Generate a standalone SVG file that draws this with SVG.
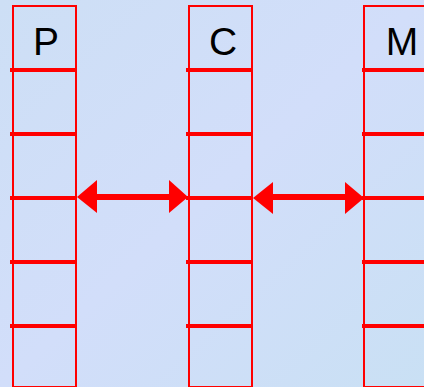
<svg xmlns="http://www.w3.org/2000/svg" width="424" height="387" viewBox="0 0 424 387">
<style>
.col{fill:none;stroke:#ff0000;stroke-width:2}
.bar{stroke:#ff0000;stroke-width:4}
.lbl{font-family:"Liberation Sans",Arial,sans-serif;font-size:39px;fill:#000;text-anchor:middle}
.shaft{stroke:#ff0000;stroke-width:6}
.head{fill:#ff0000}
</style>
<defs>
<linearGradient id="bg" x1="0" y1="0" x2="1" y2="1">
<stop offset="0" stop-color="#cddff5"/>
<stop offset="0.5" stop-color="#d2defa"/>
<stop offset="1" stop-color="#c9e0f4"/>
</linearGradient>
</defs>
<rect width="424" height="387" fill="url(#bg)"/>
<g id="P">
<rect class="col" x="13" y="6" width="63" height="381"/>
<text class="lbl" x="46" y="55">P</text>
<line class="bar" x1="10" y1="70" x2="76" y2="70"/>
<line class="bar" x1="10" y1="134" x2="76" y2="134"/>
<line class="bar" x1="10" y1="198" x2="76" y2="198"/>
<line class="bar" x1="10" y1="262" x2="76" y2="262"/>
<line class="bar" x1="10" y1="326" x2="76" y2="326"/>
</g>
<g id="C">
<rect class="col" x="189" y="6" width="63" height="381"/>
<text class="lbl" x="223" y="55">C</text>
<line class="bar" x1="186" y1="70" x2="252" y2="70"/>
<line class="bar" x1="186" y1="134" x2="252" y2="134"/>
<line class="bar" x1="186" y1="198" x2="252" y2="198"/>
<line class="bar" x1="186" y1="262" x2="252" y2="262"/>
<line class="bar" x1="186" y1="326" x2="252" y2="326"/>
</g>
<g id="M">
<rect class="col" x="364" y="6" width="70" height="381"/>
<text class="lbl" x="402" y="55">M</text>
<line class="bar" x1="362" y1="70" x2="424" y2="70"/>
<line class="bar" x1="362" y1="134" x2="424" y2="134"/>
<line class="bar" x1="362" y1="198" x2="424" y2="198"/>
<line class="bar" x1="362" y1="262" x2="424" y2="262"/>
<line class="bar" x1="362" y1="326" x2="424" y2="326"/>
</g>
<g id="connectors">
<line class="shaft" x1="95" y1="197" x2="171" y2="197"/>
<polygon class="head" points="77,197 97,180 97,213"/>
<polygon class="head" points="188,197 169,180 169,213"/>
<line class="shaft" x1="271" y1="197" x2="347" y2="197"/>
<polygon class="head" points="253,198 273,182 273,214"/>
<polygon class="head" points="364,198 345,182 345,214"/>
</g>
</svg>
